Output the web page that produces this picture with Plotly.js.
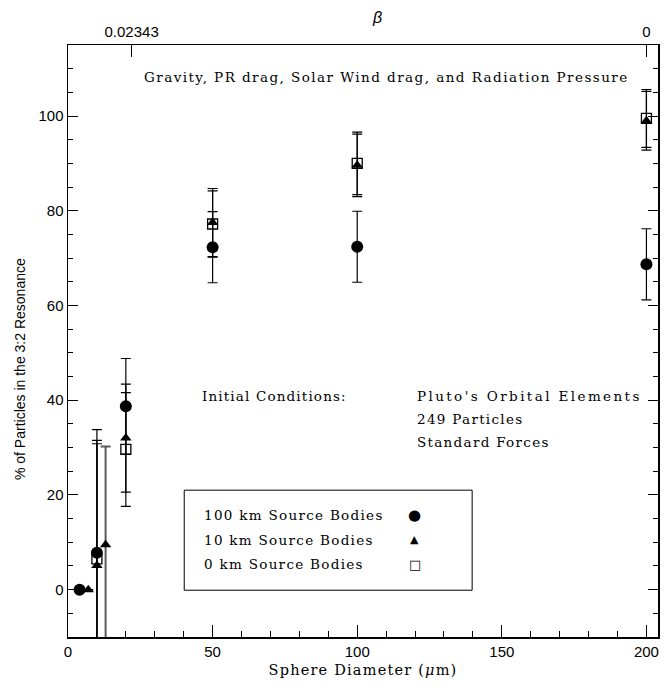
<!DOCTYPE html>
<html>
<head>
<meta charset="utf-8">
<script src="https://cdn.plot.ly/plotly-3.0.1.min.js"></script>
<style>
  html, body { margin: 0; padding: 0; background: #fff; }
  #chart { width: 671px; height: 688px; }
</style>
</head>
<body>
<div id="chart"></div>
<script>
// Resonance capture fraction vs. sphere diameter for three source-body sizes
const d100 = [4, 10, 20, 50, 100, 200];
const y100 = [0, 7.8, 38.7, 72.3, 72.4, 68.7];
const e100 = [0, 26, 10.1, 7.5, 7.5, 7.5];

const d10 = [7, 10, 13, 20, 50, 100, 200];
const y10 = [0, 5.1, 9.5, 32.0, 77.5, 89.6, 99.0];
const e10 = [0, 25.7, 20.7, 11.4, 7.2, 6.6, 6.2];

const d0 = [10, 20, 50, 100, 200];
const y0 = [6.5, 29.6, 77.2, 90.0, 99.5];
const e0 = [25.0, 12.0, 7.0, 6.6, 6.1];

// β scale along the top edge
const betaTickPos = [22, 200];
const betaTickText = ['0.02343', '0'];

const legendLabels = ['100 km Source Bodies', '10 km Source Bodies', '0 km Source Bodies'];
const legendGlyphs = ['●', '▲', '□'];

const serif = 'DejaVu Serif';
const sans = 'Liberation Sans, Arial, sans-serif';

// wide plot-style lettering for the serif notes
const spaced = (s, px) => `<span style="letter-spacing:${px || 1.3}px">${s}</span>`;

// the 13 µm run of the 10 km series is drawn with a grey bar
const greyIdx = d10.map((v, i) => i).filter(i => d10[i] === 13);
const blackIdx = d10.map((v, i) => i).filter(i => d10[i] !== 13);
const pick = (arr, idx) => idx.map(i => arr[i]);

function errTrace(x, y, e, symbol, size, barColor, barW, lineW) {
  return {
    type: 'scatter', mode: 'markers', x: x, y: y,
    marker: { symbol: symbol, size: size, color: '#000', line: { color: '#000', width: lineW } },
    error_y: { type: 'data', array: e, visible: true, color: barColor, thickness: barW, width: 5 },
    showlegend: false, hoverinfo: 'x+y', cliponaxis: true
  };
}

const traces = [
  errTrace(pick(d10, greyIdx), pick(y10, greyIdx), pick(e10, greyIdx), 'triangle-up', 10, '#5a5a5a', 2, 0),
  errTrace(pick(d10, blackIdx), pick(y10, blackIdx), pick(e10, blackIdx), 'triangle-up', 10, '#000', 1.2, 0),
  errTrace(d0, y0, e0, 'square-open', 10, '#000', 1.2, 1.3),
  errTrace(d100, y100, e100, 'circle', 12, '#000', 1.2, 0),
  // carries the β axis along the top
  { type: 'scatter', mode: 'markers', x: d100, y: y100, xaxis: 'x2',
    marker: { opacity: 0 }, hoverinfo: 'skip', showlegend: false }
];

const textFont = { family: serif, size: 13.5, color: '#000' };

const notes = [
  { text: spaced('Gravity, PR drag, Solar Wind drag, and Radiation Pressure', 1.45), x: 0.125, y: 0.946 },
  { text: spaced('Initial Conditions:', 1.15), x: 0.224, y: 0.407 },
  { text: spaced("Pluto's Orbital Elements", 2.4), x: 0.588, y: 0.407 },
  { text: spaced('249 Particles'), x: 0.588, y: 0.368 },
  { text: spaced('Standard Forces'), x: 0.588, y: 0.329 }
];
const annotations = notes.map(a => Object.assign({
  xref: 'paper', yref: 'paper', xanchor: 'left', yanchor: 'middle', showarrow: false, font: textFont
}, a));

const legendY = [0.206, 0.164, 0.123];
legendLabels.forEach((t, i) => {
  annotations.push({
    xref: 'paper', yref: 'paper', x: 0.227, y: legendY[i], xanchor: 'left', yanchor: 'middle',
    text: spaced(t), showarrow: false, font: textFont
  });
  annotations.push({
    xref: 'paper', yref: 'paper', x: 0.588, y: legendY[i], xanchor: 'center', yanchor: 'middle',
    text: legendGlyphs[i], showarrow: false,
    font: { family: 'DejaVu Sans', size: i === 0 ? 15 : (i === 1 ? 11 : 13), color: '#000000' }
  });
});

// β label over the top axis and the rotated y label
annotations.push({
  xref: 'paper', yref: 'paper', x: 0.524, y: 1.046, xanchor: 'center', yanchor: 'middle',
  text: '<i>β</i>', showarrow: false, font: { family: sans, size: 16, color: '#000000' }
});
annotations.push({
  xref: 'paper', yref: 'paper', x: -0.081, y: 0.453, xanchor: 'center', yanchor: 'middle',
  textangle: -90, text: '% of Particles in the 3:2 Resonance', showarrow: false,
  font: { family: sans, size: 14, color: '#000000' }
});

const layout = {
  width: 671, height: 688,
  margin: { l: 68, r: 13, t: 45, b: 51 },
  paper_bgcolor: '#fff', plot_bgcolor: '#fff',
  showlegend: false,
  font: { family: sans, color: '#000', size: 15 },
  xaxis: {
    range: [0, 204], tickmode: 'array', tickvals: [0, 50, 100, 150, 200],
    ticks: 'inside', ticklen: 12, tickwidth: 1, tickcolor: '#000',
    minor: { dtick: 10, ticks: 'inside', ticklen: 6, tickwidth: 1, tickcolor: '#000' },
    showline: true, linecolor: '#000', linewidth: 1.5, mirror: true,
    showgrid: false, zeroline: false,
    tickfont: { family: sans, size: 15 },
    title: { text: spaced('Sphere Diameter (<i>μ</i>m)', 1.2), font: { family: serif, size: 14.5 }, standoff: 6 }
  },
  xaxis2: {
    overlaying: 'x', side: 'top', range: [0, 204],
    tickmode: 'array', tickvals: betaTickPos, ticktext: betaTickText,
    ticks: 'inside', ticklen: 12, tickwidth: 1, tickcolor: '#000',
    ticklabelstandoff: 4,
    showline: false, showgrid: false, zeroline: false,
    tickfont: { family: sans, size: 15 }
  },
  yaxis: {
    range: [-10, 115], tickmode: 'array', tickvals: [0, 20, 40, 60, 80, 100],
    ticks: 'inside', ticklen: 10, tickwidth: 1, tickcolor: '#000',
    minor: { dtick: 5, ticks: 'inside', ticklen: 5, tickwidth: 1, tickcolor: '#000' },
    showline: true, linecolor: '#000', linewidth: 1.5, mirror: 'ticks',
    showgrid: false, zeroline: false,
    tickfont: { family: sans, size: 15 }
  },
  shapes: [{
    type: 'rect', xref: 'paper', yref: 'paper',
    x0: 0.197, x1: 0.685, y0: 0.079, y1: 0.248,
    line: { color: '#000', width: 1 }, fillcolor: 'rgba(0,0,0,0)'
  }],
  annotations: annotations
};

Plotly.newPlot('chart', traces, layout, { displayModeBar: false, staticPlot: true });
</script>
</body>
</html>
